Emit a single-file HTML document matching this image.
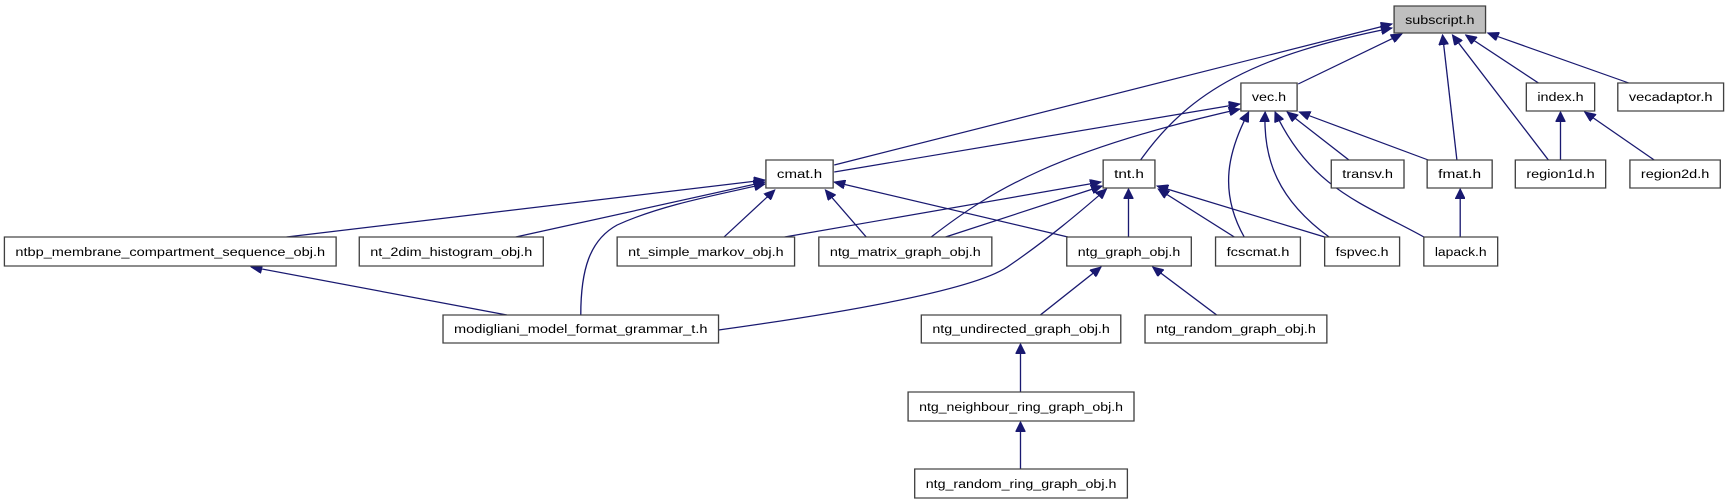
<!DOCTYPE html>
<html><head><meta charset="utf-8"><style>
html,body{margin:0;padding:0;background:#fff;width:1728px;height:504px;overflow:hidden}
svg{display:block}
text{font-family:"Liberation Sans",sans-serif;font-size:12px;fill:#000}
.e{fill:none;stroke:#191970;stroke-width:1.2;marker-end:url(#a)}
rect{fill:#fff;stroke:#404040;stroke-width:1.2}
</style></head><body>
<svg width="1728" height="504" viewBox="0 0 1568 504" preserveAspectRatio="none">
<defs><marker id="a" markerUnits="userSpaceOnUse" markerWidth="11" markerHeight="9" refX="10" refY="4.5" orient="auto"><path d="M0,0 L10,4.5 L0,9 z" fill="#191970" stroke="#191970"/></marker></defs>
<g>
<path class="e" d="M757,165 L1263,24"/>
<path class="e" d="M1035,160 C1080,90 1140,55 1263,28"/>
<path class="e" d="M1178,84 L1272,34"/>
<path class="e" d="M1322,160 L1309,35"/>
<path class="e" d="M1405,160 L1318,35"/>
<path class="e" d="M1396,83 L1330,35"/>
<path class="e" d="M1478,83 L1350,33"/>
<path class="e" d="M757,172 L1125,104"/>
<path class="e" d="M845,237 C900,190 960,150 1125,109"/>
<path class="e" d="M1129,237 C1105,190 1115,150 1133,112"/>
<path class="e" d="M1206,237 C1160,200 1146,160 1148,112"/>
<path class="e" d="M1292,237 C1240,205 1190,190 1157,112"/>
<path class="e" d="M1224,160 L1168,112"/>
<path class="e" d="M1296,160 L1179,112"/>
<path class="e" d="M1416,160 L1416,112"/>
<path class="e" d="M1501,160 L1438,112"/>
<path class="e" d="M1325,237 L1325,189"/>
<path class="e" d="M260,237 L694,180"/>
<path class="e" d="M468,237 L694,182"/>
<path class="e" d="M527,315 C527,270 535,240 560,225 C600,205 650,195 694,184"/>
<path class="e" d="M657,237 L703,190"/>
<path class="e" d="M786,237 L749,190"/>
<path class="e" d="M969,237 L757,182"/>
<path class="e" d="M712,237 L999,182"/>
<path class="e" d="M858,237 L1000,186"/>
<path class="e" d="M652,330 C750,315 880,292 914,267 C950,240 980,212 1004,189"/>
<path class="e" d="M1024,237 L1024,189"/>
<path class="e" d="M1120,237 L1051,189"/>
<path class="e" d="M1202,237 L1050,186"/>
<path class="e" d="M460,315 L228,267"/>
<path class="e" d="M944,315 L999,267"/>
<path class="e" d="M1104,315 L1046,267"/>
<path class="e" d="M926,392 L926,344"/>
<path class="e" d="M926,469 L926,422"/>
</g>
<g>
<rect x="1265" y="6" width="83" height="27" style="fill:#bfbfbf"/><text x="1306.5" y="24" text-anchor="middle" textLength="63" lengthAdjust="spacingAndGlyphs">subscript.h</text>
<rect x="1126" y="83" width="51" height="28"/><text x="1151.5" y="101" text-anchor="middle" textLength="31" lengthAdjust="spacingAndGlyphs">vec.h</text>
<rect x="1385" y="83" width="62" height="28"/><text x="1416" y="101" text-anchor="middle" textLength="42" lengthAdjust="spacingAndGlyphs">index.h</text>
<rect x="1468" y="83" width="96" height="28"/><text x="1516" y="101" text-anchor="middle" textLength="76" lengthAdjust="spacingAndGlyphs">vecadaptor.h</text>
<rect x="695" y="160" width="61" height="28"/><text x="725.5" y="178" text-anchor="middle" textLength="41" lengthAdjust="spacingAndGlyphs">cmat.h</text>
<rect x="1001" y="160" width="47" height="28"/><text x="1024.5" y="178" text-anchor="middle" textLength="27" lengthAdjust="spacingAndGlyphs">tnt.h</text>
<rect x="1208" y="160" width="66" height="28"/><text x="1241" y="178" text-anchor="middle" textLength="46" lengthAdjust="spacingAndGlyphs">transv.h</text>
<rect x="1295" y="160" width="59" height="28"/><text x="1324.5" y="178" text-anchor="middle" textLength="39" lengthAdjust="spacingAndGlyphs">fmat.h</text>
<rect x="1375" y="160" width="82" height="28"/><text x="1416" y="178" text-anchor="middle" textLength="62" lengthAdjust="spacingAndGlyphs">region1d.h</text>
<rect x="1479" y="160" width="82" height="28"/><text x="1520" y="178" text-anchor="middle" textLength="62" lengthAdjust="spacingAndGlyphs">region2d.h</text>
<rect x="4" y="237" width="301" height="29"/><text x="154.5" y="256" text-anchor="middle" textLength="281" lengthAdjust="spacingAndGlyphs">ntbp_membrane_compartment_sequence_obj.h</text>
<rect x="326" y="237" width="167" height="29"/><text x="409.5" y="256" text-anchor="middle" textLength="147" lengthAdjust="spacingAndGlyphs">nt_2dim_histogram_obj.h</text>
<rect x="560" y="237" width="161" height="29"/><text x="640.5" y="256" text-anchor="middle" textLength="141" lengthAdjust="spacingAndGlyphs">nt_simple_markov_obj.h</text>
<rect x="743" y="237" width="157" height="29"/><text x="821.5" y="256" text-anchor="middle" textLength="137" lengthAdjust="spacingAndGlyphs">ntg_matrix_graph_obj.h</text>
<rect x="968" y="237" width="113" height="29"/><text x="1024.5" y="256" text-anchor="middle" textLength="93" lengthAdjust="spacingAndGlyphs">ntg_graph_obj.h</text>
<rect x="1103" y="237" width="77" height="29"/><text x="1141.5" y="256" text-anchor="middle" textLength="57" lengthAdjust="spacingAndGlyphs">fcscmat.h</text>
<rect x="1202" y="237" width="68" height="29"/><text x="1236" y="256" text-anchor="middle" textLength="48" lengthAdjust="spacingAndGlyphs">fspvec.h</text>
<rect x="1292" y="237" width="67" height="29"/><text x="1325.5" y="256" text-anchor="middle" textLength="47" lengthAdjust="spacingAndGlyphs">lapack.h</text>
<rect x="402" y="315" width="250" height="28"/><text x="527" y="333" text-anchor="middle" textLength="230" lengthAdjust="spacingAndGlyphs">modigliani_model_format_grammar_t.h</text>
<rect x="836" y="315" width="181" height="28"/><text x="926.5" y="333" text-anchor="middle" textLength="161" lengthAdjust="spacingAndGlyphs">ntg_undirected_graph_obj.h</text>
<rect x="1039" y="315" width="165" height="28"/><text x="1121.5" y="333" text-anchor="middle" textLength="145" lengthAdjust="spacingAndGlyphs">ntg_random_graph_obj.h</text>
<rect x="824" y="392" width="205" height="29"/><text x="926.5" y="411" text-anchor="middle" textLength="185" lengthAdjust="spacingAndGlyphs">ntg_neighbour_ring_graph_obj.h</text>
<rect x="830" y="469" width="193" height="29"/><text x="926.5" y="488" text-anchor="middle" textLength="173" lengthAdjust="spacingAndGlyphs">ntg_random_ring_graph_obj.h</text>
</g>
</svg>
</body></html>
